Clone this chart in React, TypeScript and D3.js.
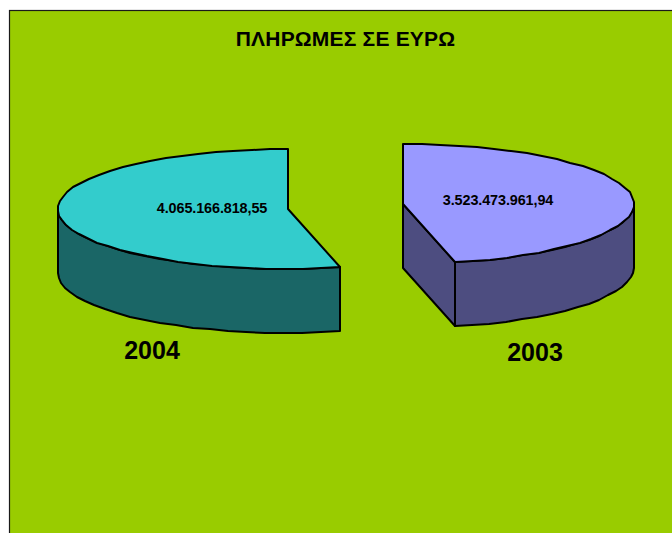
import React from "react";
import * as d3 from "d3";

const years = ["2003", "2004"];
const payments = [3523473961.94, 4065166818.55];
const valueLabels = ["3.523.473.961,94", "4.065.166.818,55"];
const title = "ΠΛΗΡΩΜΕΣ ΣΕ ΕΥΡΩ";
const topColors = ["#9999FF", "#33CCCC"];
const sideColors = ["#4D4D80", "#1A6666"];

const W = 672, H = 533;
const rx = 230.5, ry = 60, depth = 64;
const apexes = [{ x: 403.3, y: 204 }, { x: 288.3, y: 209 }];
const yearPos = [{ x: 535, y: 361 }, { x: 152, y: 359 }];
const labelPos = [{ x: 498, y: 205 }, { x: 212, y: 213 }];

const arcs = d3.pie<number>().sort(null)(payments);
const sx = d3.scaleLinear().domain([-1, 1]).range([-rx, rx]);
const sy = d3.scaleLinear().domain([-1, 1]).range([ry, -ry]);

function rim(a: number, b: number, c: { x: number; y: number }, dy = 0): [number, number][] {
  const n = Math.max(4, Math.round(Math.abs(b - a) / 0.08));
  return d3.range(n + 1).map((i) => {
    const t = a + ((b - a) * i) / n;
    const x = c.x + sx(Math.sin(t));
    const y = c.y + sy(Math.cos(t)) + dy;
    return [Math.round(x), Math.round(y)] as [number, number];
  });
}
const line = d3.line();

export default function App() {
  const stroke = { stroke: "#000", strokeWidth: 2, strokeLinejoin: "round" as const };
  return (
    <svg width={W} height={H} style={{ position: "absolute", left: 0, top: 0, background: "#fff" }}>
      <rect x={9.5} y={10.5} width={W + 10} height={H + 10} fill="#99CC00" stroke="#1a1a1a" strokeWidth={1.2} />
      <text x={345.5} y={46} textAnchor="middle" fontFamily="Liberation Sans" fontWeight="bold" fontSize={21} letterSpacing={0.2} fill="#000">{title}</text>
      {arcs.map((d, i) => {
        const c = apexes[i];
        const wa = Math.max(d.startAngle, Math.PI / 2);
        const wb = Math.min(d.endAngle, (3 * Math.PI) / 2);
        const top = rim(wa, wb, c);
        const bottom = rim(wa, wb, c, depth).reverse();
        const rimTop = rim(d.startAngle, d.endAngle, c);
        const last = rim(d.endAngle, d.endAngle, c)[0];
        const apex: [number, number] = [Math.round(c.x), c.y];
        const cuts: [number, number][][] = [];
        if (i === 0) {
          cuts.push([apex, last, [last[0], last[1] + depth], [apex[0], apex[1] + depth]]);
        }
        return (
          <g key={years[i]}>
            {cuts.map((p, k) => (
              <path key={k} d={line(p)! + "Z"} fill={sideColors[i]} {...stroke} />
            ))}
            <path d={line([...top, ...bottom])! + "Z"} fill={sideColors[i]} {...stroke} />
            <path d={line([apex, ...rimTop])! + "Z"} fill={topColors[i]} {...stroke} />
            <text x={labelPos[i].x} y={labelPos[i].y} textAnchor="middle" fontFamily="Liberation Sans" fontWeight="bold" fontSize={14.4} letterSpacing={-0.1} fill="#000">{valueLabels[i]}</text>
            <text x={yearPos[i].x} y={yearPos[i].y} textAnchor="middle" fontFamily="Liberation Sans" fontWeight="bold" fontSize={25} fill="#000">{years[i]}</text>
          </g>
        );
      })}
    </svg>
  );
}
